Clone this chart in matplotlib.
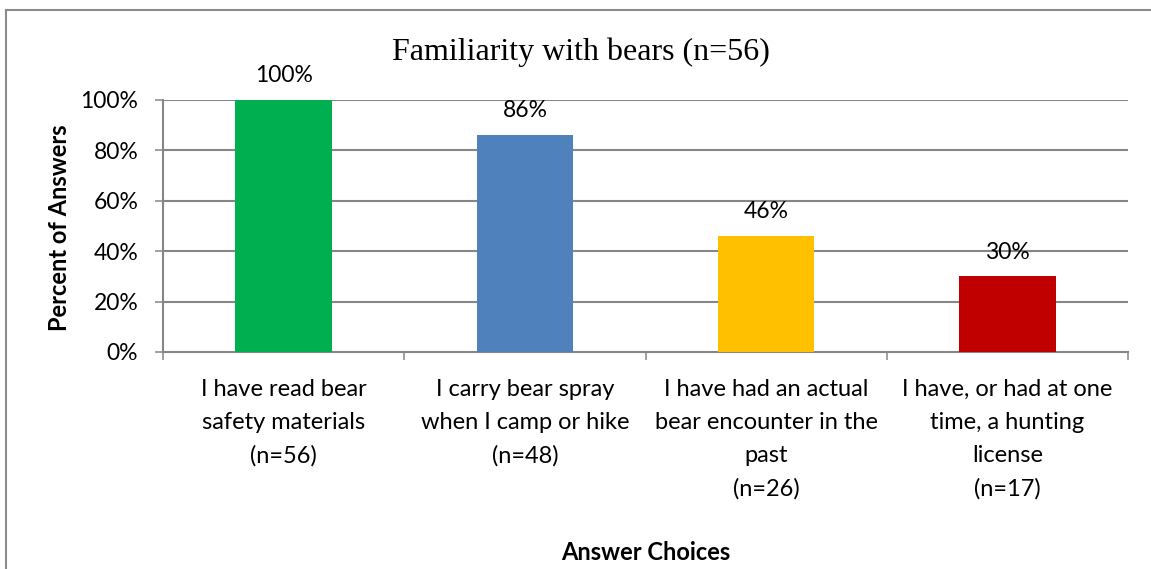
import matplotlib
matplotlib.use("Agg")
import matplotlib.pyplot as plt
from matplotlib.lines import Line2D
import numpy as np

categories = [
    "I have read bear\nsafety materials\n(n=56)",
    "I carry bear spray\nwhen I camp or hike\n(n=48)",
    "I have had an actual\nbear encounter in the\npast\n(n=26)",
    "I have, or had at one\ntime, a hunting\nlicense\n(n=17)",
]
values = [100, 86, 46, 30]
value_labels = ["100%", "86%", "46%", "30%"]
colors = ["#00B050", "#4F81BD", "#FFC000", "#C00000"]
yticks = [0, 20, 40, 60, 80, 100]
ytick_labels = ["0%", "20%", "40%", "60%", "80%", "100%"]

W, H = 1151, 569
fig = plt.figure(figsize=(W / 100, H / 100), dpi=100)
sans = ["Lato", "DejaVu Sans"]
serif = ["Liberation Serif", "DejaVu Serif"]
fs = 17

ax = fig.add_axes([163 / W, 1 - 352 / H, (1128 - 163) / W, (352 - 100) / H])
x = np.arange(len(categories))
ax.bar(x, values, width=0.40, color=colors, zorder=3)
ax.set_xlim(-0.5, len(categories) - 0.5)
ax.set_ylim(0, 100)

grid_c = "#868686"
ax.set_yticks(yticks)
ax.set_yticklabels(ytick_labels, fontfamily=sans, fontsize=16.5)
for yv in yticks[1:]:
    ax.axhline(yv, color=grid_c, lw=1.5, zorder=1)
ax.set_xticks(x)
ax.set_xticklabels(categories, fontfamily=sans, fontsize=fs, linespacing=1.7)
ax.set_xticks(np.arange(-0.5, len(categories), 1.0), minor=True)
ax.tick_params(axis="x", which="major", length=0, pad=19.5)
ax.tick_params(axis="x", which="minor", length=5.8, width=1.1, color=grid_c)
ax.tick_params(axis="y", length=5.8, width=1.1, color=grid_c, pad=12)

for s in ["top", "right"]:
    ax.spines[s].set_visible(False)
for s in ["left", "bottom"]:
    ax.spines[s].set_color(grid_c)
    ax.spines[s].set_linewidth(1.5)

for xi, v, lab in zip(x, values, value_labels):
    ax.annotate(lab, (xi, v), xytext=(0, 17.5), textcoords="offset points",
                ha="center", va="center", fontfamily=sans, fontsize=16.5)

fig.text(60 / W, 1 - 228 / H, "Percent of Answers", ha="center", va="center", rotation=90,
         fontfamily=sans, fontsize=fs, fontweight="bold")
fig.text(646 / W, 1 - 552 / H, "Answer Choices", ha="center", va="center",
         fontfamily=sans, fontsize=fs, fontweight="bold")
fig.text(581 / W, 1 - 52 / H, "Familiarity with bears (n=56)", ha="center", va="center",
         fontfamily=serif, fontsize=23)

frame_c = "#8C8C8C"
fig.add_artist(Line2D([5.5 / W, 5.5 / W], [0, 1 - 10 / H], transform=fig.transFigure, color=frame_c, lw=1.5))
fig.add_artist(Line2D([5.5 / W, 1], [1 - 10 / H, 1 - 10 / H], transform=fig.transFigure, color=frame_c, lw=1.5))

fig.savefig("out.png", dpi=100, facecolor="white")
